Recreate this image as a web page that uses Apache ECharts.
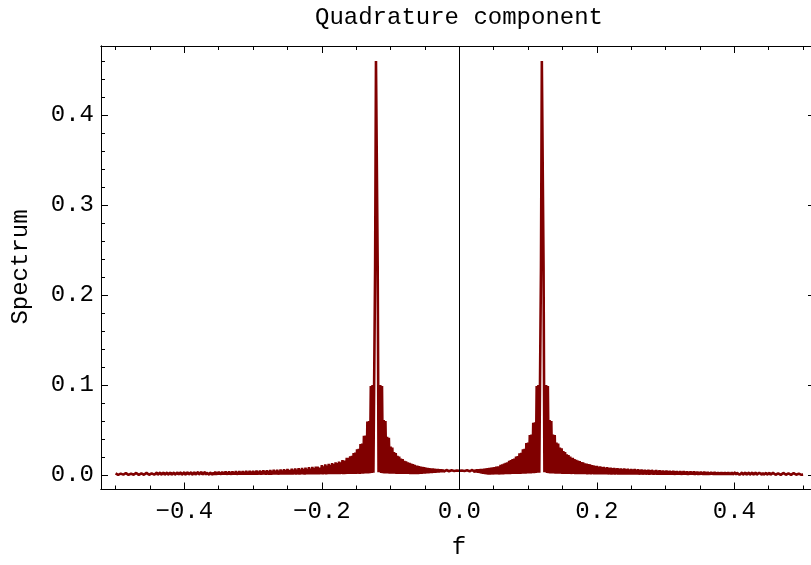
<!DOCTYPE html>
<html><head><meta charset="utf-8">
<script src="https://cdn.jsdelivr.net/npm/echarts@6/dist/echarts.min.js"></script>
<style>html,body{margin:0;padding:0;background:#fff}#chart{width:811px;height:565px}</style>
</head><body><div id="chart"></div>
<script>
const titleText = 'Quadrature component';
const xName = 'f';
const yName = 'Spectrum';
// frequency grid of the sampled spectrum
const fStart = -0.5;
const fStep = 0.00125;
// spectrum values, one per frequency sample (20 per row)
const spectrum = [
.0019,.0003,.0014,.0002,.0020,.0003,.0015,.0002,.0021,.0004,.0015,.0002,.0021,.0003,.0016,.0002,.0022,.0003,.0016,.0002,
.0022,.0003,.0017,.0002,.0023,.0004,.0017,.0002,.0023,.0003,.0018,.0002,.0024,.0003,.0018,.0004,.0024,.0002,.0019,.0003,
.0025,.0002,.0019,.0003,.0026,.0004,.0020,.0002,.0027,.0003,.0020,.0002,.0027,.0004,.0021,.0003,.0028,.0002,.0021,.0003,
.0028,.0004,.0021,.0002,.0029,.0003,.0022,.0004,.0029,.0002,.0022,.0003,.0030,.0004,.0023,.0003,.0030,.0002,.0023,.0004,
.0031,.0003,.0023,.0002,.0032,.0004,.0024,.0003,.0033,.0002,.0024,.0004,.0033,.0003,.0025,.0002,.0034,.0004,.0025,.0003,
.0034,.0004,.0026,.0003,.0035,.0002,.0026,.0004,.0036,.0003,.0027,.0005,.0036,.0003,.0027,.0004,.0037,.0003,.0028,.0005,
.0038,.0004,.0029,.0003,.0039,.0005,.0030,.0004,.0040,.0003,.0030,.0005,.0041,.0004,.0031,.0003,.0042,.0005,.0032,.0004,
.0043,.0003,.0033,.0005,.0044,.0004,.0034,.0005,.0045,.0003,.0035,.0005,.0046,.0004,.0036,.0005,.0047,.0004,.0037,.0005,
.0048,.0004,.0038,.0005,.0050,.0004,.0039,.0006,.0051,.0004,.0040,.0005,.0053,.0006,.0042,.0004,.0054,.0006,.0043,.0005,
.0056,.0004,.0045,.0006,.0058,.0005,.0046,.0006,.0060,.0004,.0048,.0006,.0062,.0005,.0050,.0006,.0064,.0005,.0052,.0006,
.0066,.0068,.0006,.0056,.0007,.0070,.0006,.0058,.0007,.0073,.0006,.0060,.0007,.0076,.0006,.0062,.0008,.0079,.0007,.0065,
.0006,.0082,.0008,.0068,.0007,.0086,.0008,.0071,.0007,.0090,.0009,.0075,.0008,.0094,.0007,.0092,.0098,.0008,.0083,.0009,
.0110,.0008,.0096,.0009,.0117,.0008,.0103,.0009,.0124,.0010,.0112,.0009,.0132,.0010,.0121,.0009,.0141,.0010,.0132,.0009,
.0150,.0010,.0142,.0011,.0165,.0010,.0160,.0180,.0011,.0190,.0012,.0192,.0011,.0208,.0012,.0212,.0013,.0245,.0012,.0250,
.0013,.0285,.0014,.0290,.0013,.0345,.0015,.0350,.0014,.0435,.0016,.0440,.0017,.0595,.0018,.0600,.0020,.0990,.0022,.1000,
.0025,.0030,.2300,.4600,.4600,.2300,.0030,.0025,.1000,.0022,.0990,.0020,.0610,.0018,.0600,.0017,.0425,.0016,.0415,.0015,
.0315,.0015,.0305,.0014,.0255,.0014,.0245,.0013,.0212,.0013,.0205,.0012,.0182,.0012,.0176,.0012,.0158,.0011,.0152,.0011,
.0142,.0011,.0136,.0010,.0126,.0010,.0120,.0010,.0112,.0108,.0010,.0104,.0011,.0098,.0012,.0094,.0013,.0090,.0015,.0086,
.0016,.0082,.0018,.0079,.0019,.0076,.0021,.0073,.0022,.0071,.0024,.0069,.0026,.0067,.0028,.0065,.0030,.0063,.0032,.0061,
.0034,.0059,.0036,.0057,.0038,.0056,.0040,.0054,.0042,.0053,.0043,.0052,.0044,.0051,.0045,.0050,.0046,.0050,.0047,.0049,
.0048,.0049,.0047,.0050,.0046,.0050,.0045,.0051,.0044,.0052,.0043,.0053,.0041,.0054,.0039,.0056,.0036,.0058,.0033,.0060,
.0030,.0062,.0026,.0064,.0022,.0066,.0018,.0068,.0014,.0070,.0010,.0073,.0007,.0076,.0006,.0079,.0006,.0082,.0007,.0085,
.0006,.0088,.0007,.0092,.0006,.0096,.0100,.0007,.0112,.0008,.0118,.0008,.0126,.0009,.0134,.0009,.0142,.0010,.0158,.0010,
.0165,.0011,.0178,.0011,.0182,.0012,.0205,.0012,.0210,.0013,.0240,.0013,.0248,.0014,.0285,.0014,.0292,.0015,.0355,.0016,
.0362,.0017,.0445,.0018,.0450,.0019,.0580,.0020,.0585,.0022,.0990,.0025,.1000,.0025,.0030,.2300,.4600,.4600,.2300,.0030,
.0025,.1000,.0022,.0990,.0020,.0610,.0018,.0600,.0017,.0450,.0016,.0445,.0015,.0360,.0015,.0350,.0014,.0305,.0014,.0298,
.0013,.0265,.0013,.0255,.0012,.0230,.0012,.0222,.0011,.0205,.0200,.0011,.0190,.0011,.0178,.0010,.0170,.0010,.0160,.0010,
.0155,.0009,.0143,.0010,.0141,.0009,.0130,.0009,.0128,.0008,.0120,.0009,.0118,.0008,.0111,.0009,.0108,.0008,.0102,.0008,
.0101,.0008,.0094,.0007,.0096,.0008,.0088,.0007,.0091,.0008,.0083,.0007,.0087,.0006,.0079,.0007,.0083,.0006,.0075,.0007,
.0079,.0006,.0072,.0007,.0076,.0006,.0069,.0005,.0074,.0006,.0067,.0005,.0072,.0006,.0065,.0005,.0070,.0006,.0063,.0005,
.0068,.0006,.0061,.0005,.0066,.0004,.0059,.0005,.0064,.0004,.0057,.0005,.0062,.0004,.0055,.0005,.0060,.0004,.0053,.0005,
.0058,.0004,.0052,.0005,.0057,.0054,.0004,.0050,.0005,.0055,.0004,.0048,.0003,.0053,.0004,.0046,.0003,.0051,.0004,.0045,
.0003,.0050,.0004,.0043,.0003,.0048,.0004,.0042,.0003,.0047,.0002,.0041,.0003,.0045,.0004,.0039,.0003,.0044,.0002,.0038,
.0003,.0043,.0004,.0037,.0003,.0042,.0002,.0036,.0003,.0041,.0004,.0035,.0003,.0040,.0002,.0034,.0003,.0039,.0002,.0033,
.0003,.0038,.0004,.0032,.0003,.0037,.0002,.0031,.0003,.0036,.0002,.0030,.0003,.0035,.0004,.0029,.0003,.0034,.0002,.0029,
.0003,.0033,.0002,.0028,.0003,.0033,.0004,.0027,.0003,.0032,.0002,.0027,.0003,.0031,.0002,.0026,.0003,.0031,.0004,.0025,
.0003,.0030,.0002,.0025,.0003,.0029,.0002,.0024,.0003,.0029,.0002,.0024,.0003,.0028,.0004,.0023,.0003,.0028,.0002,.0023,
.0003,.0027,.0002,.0022,.0003,.0027,.0002,.0022,.0003,.0026,.0004,.0021,.0003,.0026,.0002,.0021,.0003,.0025,.0002,.0020,
.0003,.0025,.0002,.0020,.0003,.0024,.0002,.0019,.0003,.0024,.0002,.0019,.0003,.0023,.0002,.0018,.0003,.0023,.0002,.0018,
.0003,.0022,.0002,.0018,.0003,.0022,.0002,.0017,.0003,.0021,.0002,.0017,.0003,.0021,.0002,.0016,.0003,.0020,.0002,.0016,
.0004
];
const xMajorTicks = [-0.4, -0.2, 0.0, 0.2, 0.4];
const xMinorTicks = [-0.5,-0.45,-0.35,-0.3,-0.25,-0.15,-0.1,-0.05,0.05,0.1,0.15,0.25,0.3,0.35,0.45,0.5];
const yMajorTicks = [0.0, 0.1, 0.2, 0.3, 0.4];
const yMinorTicks = [0.02,0.04,0.06,0.08,0.12,0.14,0.16,0.18,0.22,0.24,0.26,0.28,0.32,0.34,0.36,0.38,0.42,0.44,0.46];

const FONT = '"Liberation Mono","Courier New",monospace';
const FS = 24;
const xMin = -0.5212, xMax = 0.5115, yMin = -0.0161, yMax = 0.4767;
const fmt = v => (v < 0 ? '\u2212' : '') + Math.abs(v).toFixed(1);

const points = spectrum.map((v, i) => [+(fStart + i * fStep).toFixed(5), v]);

function xAx(pos, ticks, len, withLabels) {
  return {
    type: 'value', position: pos, min: xMin, max: xMax,
    axisLine: { show: true, onZero: false, lineStyle: { color: '#000', width: 1 } },
    axisTick: { show: true, inside: true, length: len, customValues: ticks, lineStyle: { color: '#000', width: 1 } },
    axisLabel: withLabels ? { show: true, customValues: ticks, formatter: fmt, margin: 10,
      fontFamily: FONT, fontSize: FS, color: '#000' } : { show: false },
    splitLine: { show: false }
  };
}
function yAx(pos, ticks, len, withLabels, showLine) {
  return {
    type: 'value', position: pos, min: yMin, max: yMax,
    axisLine: { show: showLine, onZero: false, lineStyle: { color: '#000', width: 1 } },
    axisTick: { show: true, inside: true, length: len, customValues: ticks, lineStyle: { color: '#000', width: 1 } },
    axisLabel: withLabels ? { show: true, customValues: ticks, formatter: fmt, margin: 7,
      fontFamily: FONT, fontSize: FS, color: '#000' } : { show: false },
    splitLine: { show: false }
  };
}

const chart = echarts.init(document.getElementById('chart'), null, { renderer: 'canvas' });
chart.setOption({
  animation: false,
  backgroundColor: '#fff',
  grid: { left: 101, top: 46, width: 710, height: 443.5, containLabel: false },
  xAxis: [
    xAx('bottom', xMajorTicks, 7, true),
    xAx('bottom', xMinorTicks, 4, false),
    xAx('top', xMajorTicks, 7, false),
    xAx('top', xMinorTicks, 4, false)
  ],
  yAxis: [
    yAx('left', yMajorTicks, 7, true, true),
    yAx('left', yMinorTicks, 4, false, true),
    yAx('right', yMajorTicks, 3, false, false)
  ],
  graphic: [
    { type: 'text', x: 459, y: 18, style: { text: titleText, align: 'center', verticalAlign: 'middle',
      fontFamily: FONT, fontSize: FS, fill: '#000' } },
    { type: 'text', x: 459, y: 548, style: { text: xName, align: 'center', verticalAlign: 'middle',
      fontFamily: FONT, fontSize: FS, fill: '#000' } },
    { type: 'text', x: 21, y: 267, rotation: Math.PI / 2, style: { text: yName, align: 'center', verticalAlign: 'middle',
      fontFamily: FONT, fontSize: FS, fill: '#000' } }
  ],
  series: [{
    type: 'line', xAxisIndex: 0, yAxisIndex: 0, data: points,
    showSymbol: false, symbol: 'none', sampling: null,
    lineStyle: { color: '#800000', width: 2.6, join: 'bevel' },
    markLine: { silent: true, symbol: ['none', 'none'], label: { show: false },
      lineStyle: { color: '#000', width: 1, type: 'solid' }, data: [{ xAxis: 0 }] }
  }]
});
</script></body></html>
